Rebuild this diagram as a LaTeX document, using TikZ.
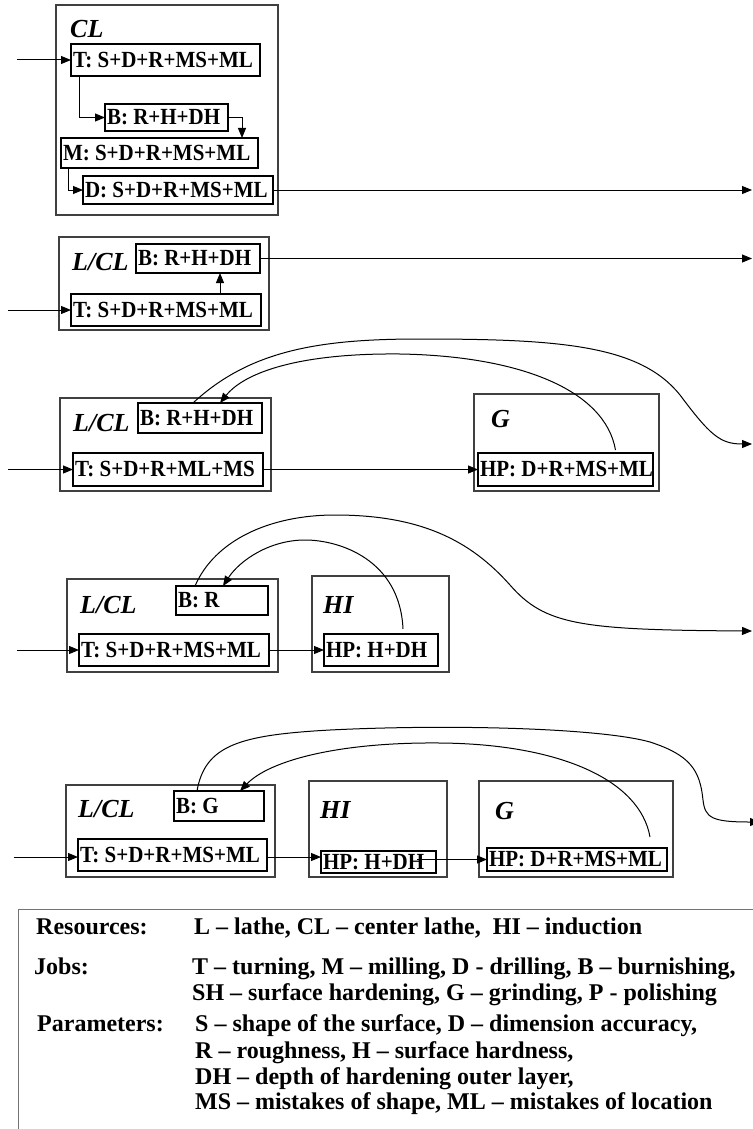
\documentclass[tikz,border=0pt]{standalone}
\usepackage{fontspec}
\usepackage{graphicx}
\setmainfont{Liberation Serif}
\usetikzlibrary{arrows.meta}
\newcommand\bxn[6]{\node[bx, minimum width=#4pt, minimum height=#5pt] (#1) at (#2,#3) {\makebox[\dimexpr#4pt-4pt\relax][l]{\scalebox{1}[1.1]{#6}}};}
\newcommand\obn[5]{\node[ob, minimum width=#4pt, minimum height=#5pt] (#1) at (#2,#3) {};}
\begin{document}
\begin{tikzpicture}[x=1pt,y=-1pt,
  bx/.style={draw=black, line width=1.1pt, anchor=north west, inner xsep=2pt, inner ysep=0pt, outer sep=0pt,
    font=\bfseries\fontsize{21}{24}\selectfont},
  ob/.style={draw=black!75, line width=1.2pt, anchor=north west, inner sep=0pt, outer sep=0pt},
  lab/.style={anchor=base west, inner sep=0pt, font=\bfseries\itshape\fontsize{26}{28}\selectfont},
  leg/.style={anchor=base west, inner sep=0pt, font=\bfseries\fontsize{24}{26}\selectfont},
  lf/.style={draw=black!55, line width=1pt, anchor=north west, inner sep=0pt, outer sep=0pt},
  arr/.style={line width=1pt, -{Triangle[length=10pt,width=8pt]}},
  cur/.style={line width=0.9pt}]
\useasboundingbox (0,0) rectangle (752,1129);

% ---------- section 1 ----------
\obn{cl1}{56}{5}{222}{210}
\node[lab] (cl1l) at (70,38) {CL};
\bxn{t1}{71}{44}{189}{32}{T: S+D+R+MS+ML}
\bxn{b1}{105}{104}{123}{27}{B: R+H+DH}
\bxn{m1}{61}{138}{197}{30}{M: S+D+R+MS+ML}
\bxn{d1}{83}{176}{190}{28}{D: S+D+R+MS+ML}
\coordinate (in1) at (17,60);
\coordinate (out1) at (752,190);
\draw[arr] (in1) -- (t1.west);
\draw[arr] ([xshift=8pt]t1.south west) |- (b1.west);
\draw[arr] (b1.east) -| ([xshift=-16pt]m1.north east);
\draw[arr] ([xshift=7pt]m1.south west) |- (d1.west);
\draw[arr] (d1.east) -- (out1);

% ---------- section 2 ----------
\obn{lc2}{59}{237}{210}{93}
\node[lab] (lc2l) at (72,270) {L/CL};
\bxn{b2}{136}{244}{124}{29}{B: R+H+DH}
\bxn{t2}{71}{294}{190}{32}{T: S+D+R+MS+ML}
\coordinate (in2) at (8,310);
\coordinate (out2) at (752,258.5);
\draw[arr] (in2) -- (t2.west);
\draw[arr] ([xshift=54pt]t2.north) -- ([xshift=54pt]t2.north |- b2.south);
\draw[arr] (b2.east) -- (out2);

% ---------- section 3 ----------
\obn{lc3}{60}{398}{211}{93}
\node[lab] (lc3l) at (73,431) {L/CL};
\bxn{b3}{138}{403}{124}{30}{B: R+H+DH}
\bxn{t3}{73}{453}{190}{33}{T: S+D+R+ML+MS}
\obn{g3}{474}{394}{185}{97}
\node[lab] (g3l) at (491,427) {G};
\bxn{hp3}{478}{453}{175}{33}{HP: D+R+MS+ML}
\coordinate (in3) at (8,469.5);
\coordinate (out3) at (752,444);
\draw[arr] (in3) -- (t3.west);
\draw[arr] (t3.east) -- (hp3.west);
\draw[cur,arr] ([xshift=-7pt]b3.north) .. controls (250,350) and (320,339) .. (420,339)
  .. controls (560,339) and (640,345) .. (680,395) .. controls (710,435) and (720,444) .. (out3);
\draw[cur,arr] ([xshift=50pt,yshift=3pt]hp3.north) .. controls (605,390) and (520,356) .. (400,354)
  .. controls (300,353) and (245,372) .. ([xshift=20pt]b3.north);

% ---------- section 4 ----------
\obn{lc4}{67}{579}{211}{93}
\node[lab] (lc4l) at (80,613) {L/CL};
\bxn{b4}{176}{586}{92}{29}{B: R}
\bxn{t4}{79}{634}{190}{32}{T: S+D+R+MS+ML}
\obn{hi4}{312}{576}{137}{96}
\node[lab] (hi4l) at (323,613) {HI};
\bxn{hp4}{324}{634}{114}{32}{HP: H+DH}
\coordinate (in4) at (17,650);
\coordinate (out4) at (752,631);
\draw[arr] (in4) -- (t4.west);
\draw[arr] (t4.east) -- (hp4.west);
\draw[cur,arr] ([xshift=-27pt]b4.north) .. controls (215,540) and (270,515) .. (335,515)
  .. controls (420,515) and (470,540) .. (510,585) .. controls (545,625) and (580,630) .. (out4);
\draw[cur,arr] ([xshift=22pt,yshift=5pt]hp4.north) .. controls (400,560) and (340,540) .. (305,540)
  .. controls (270,540) and (240,560) .. ([xshift=1pt]b4.north);

% ---------- section 5 ----------
\obn{lc5}{66}{785}{209}{92}
\node[lab] (lc5l) at (78,817) {L/CL};
\bxn{b5}{174}{791}{90}{30}{B: G}
\bxn{t5}{78}{839}{189}{32}{T: S+D+R+MS+ML}
\obn{hi5}{309}{781}{138}{96}
\node[lab] (hi5l) at (320,818) {HI};
\bxn{hp5}{321}{851}{115}{22}{HP: H+DH}
\obn{g5}{479}{781}{194}{96}
\node[lab] (g5l) at (495,819) {G};
\bxn{hp5g}{487}{848}{180}{23}{HP: D+R+MS+ML}
\coordinate (in5) at (14,857);
\coordinate (out5) at (760,822);
\draw[arr] (in5) -- (in5 -| t5.west);
\draw[arr] (t5.east |- in5) -- (hp5.west |- in5);
\draw[arr] ([xshift=-19pt]hp5.east |- hp5g.west) -- (hp5g.west);
\draw[cur,arr] ([xshift=-22pt]b5.north) .. controls (205,745) and (240,735) .. (330,730)
  .. controls (450,724) and (600,728) .. (650,742) .. controls (690,755) and (700,770) .. (703,800)
  .. controls (705,818) and (712,822) .. (out5);
\draw[cur,arr] ([xshift=73pt,yshift=11pt]hp5g.north) .. controls (640,780) and (560,744) .. (440,743)
  .. controls (340,742) and (270,760) .. ([xshift=21pt]b5.north);

% ---------- legend ----------
\node[lf, minimum width=800pt, minimum height=300pt] (legend) at (18,909) {};
\node[leg] (lr) at (36,934) {Resources:};
\node[leg] (lr1) at (194,934) {L – lathe, CL – center lathe,\ \ HI – induction};
\node[leg] (lj) at (34,974) {Jobs:};
\node[leg] (lj1) at (192,974) {T – turning, M – milling, D - drilling, B – burnishing,};
\node[leg] (lj2) at (192,1000) {SH – surface hardening, G – grinding, P - polishing};
\node[leg] (lp) at (37,1031) {Parameters:};
\node[leg] (lp1) at (195,1031) {S – shape of the surface, D – dimension accuracy,};
\node[leg] (lp2) at (195,1058) {R – roughness, H – surface hardness,};
\node[leg] (lp3) at (195,1084) {DH – depth of hardening outer layer,};
\node[leg] (lp4) at (195,1109) {MS – mistakes of shape, ML – mistakes of location};
\end{tikzpicture}
\end{document}
